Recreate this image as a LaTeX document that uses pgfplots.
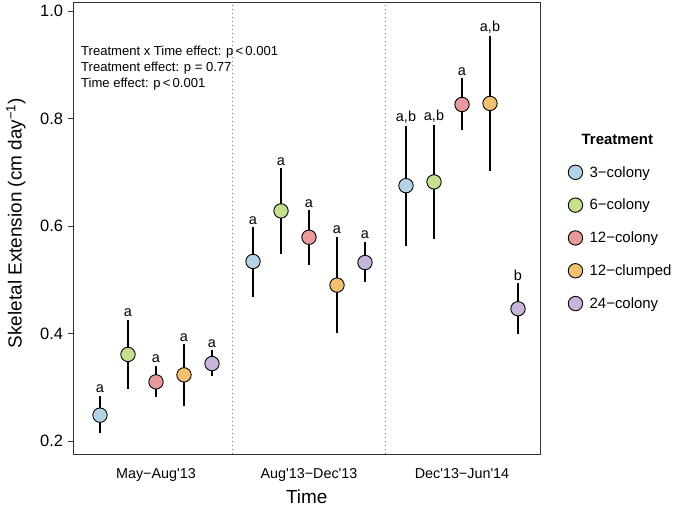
\documentclass[border=0pt]{standalone}
\usepackage{fontspec}
\setmainfont{Liberation Sans}
\usepackage{pgfplots}
\usepackage{pgfplotstable}
\pgfplotsset{compat=1.18}
\definecolor{c1}{HTML}{B5D3E7}
\definecolor{c2}{HTML}{C5E08F}
\definecolor{c3}{HTML}{E99A9C}
\definecolor{c4}{HTML}{F2C06F}
\definecolor{c5}{HTML}{C6B4DB}
\definecolor{frame}{HTML}{333333}
\pgfplotstableread{
x      y      hi     lo     lab
0.634  0.248  0.284  0.214  a
1.634  0.534  0.598  0.468  a
2.634  0.675  0.786  0.563  {a,b}
}\sA
\pgfplotstableread{
x      y      hi     lo     lab
0.817  0.361  0.426  0.296  a
1.817  0.628  0.707  0.548  a
2.817  0.682  0.788  0.576  {a,b}
}\sB
\pgfplotstableread{
x      y      hi     lo     lab
1.000  0.310  0.340  0.281  a
2.000  0.579  0.630  0.527  a
3.000  0.826  0.875  0.779  a
}\sC
\pgfplotstableread{
x      y      hi     lo     lab
1.183  0.323  0.380  0.265  a
2.183  0.490  0.580  0.400  a
3.183  0.828  0.954  0.702  {a,b}
}\sD
\pgfplotstableread{
x      y      hi     lo     lab
1.366  0.344  0.369  0.321  a
2.366  0.532  0.571  0.496  a
3.366  0.446  0.493  0.399  b
}\sE
\pgfplotsset{
  ser/.style={only marks, mark=*, mark size=7.2bp,
    mark options={fill=#1, draw=black, line width=0.9bp},
    error bars/.cd, y dir=both, y explicit, error mark=none,
    error bar style={line width=2bp, black}},
  lab/.style={forget plot, draw=none, mark=none, nodes near coords,
    point meta=explicit symbolic,
    nodes near coords style={anchor=south, black, inner sep=0pt, yshift=2.5bp,
      font=\fontsize{14.5}{16}\selectfont}},
}
\begin{document}
\begin{tikzpicture}
\begin{axis}[
  at={(0,0)}, anchor=south west,
  scale only axis, width=467bp, height=452bp,
  xmin=0.45752, xmax=3.50981, ymin=0.1758, ymax=1.0167,
  xtick={1,2,3},
  xticklabels={May\textminus Aug\textquotesingle 13, Aug\textquotesingle 13\textminus Dec\textquotesingle 13, Dec\textquotesingle 13\textminus Jun\textquotesingle 14},
  xtick style={draw=none},
  tick pos=left,
  ytick={0.2,0.4,0.6,0.8,1.0},
  yticklabel style={/pgf/number format/fixed, /pgf/number format/precision=1,
    /pgf/number format/fixed zerofill, /pgf/number format/assume math mode=true,
    font=\fontsize{16.5}{18}\selectfont, xshift=-2bp},
  xticklabel style={font=\fontsize{14.4}{16}\selectfont, yshift=-6bp},
  tick align=outside, major tick length=4.5bp,
  ytick style={frame, line width=0.9bp},
  axis line style={frame, line width=0.9bp},
  extra x ticks={1.5,2.5}, extra x tick labels={},
  extra x tick style={grid=major, major grid style={black!55, line width=1bp, dash pattern=on 1bp off 3bp}, major tick length=0pt},
  legend cell align=left,
  legend style={draw=none, fill=none, at={(1.0573,0.713)}, anchor=north west,
    font=\fontsize{15}{17}\selectfont, row sep=16.5bp, column sep=5bp, inner sep=0pt},
  clip=false,
]
\addlegendimage{empty legend}
\addlegendentry{\hspace{-8bp}\textbf{Treatment}}
\addplot[ser=c1] table[x=x, y=y, y error plus expr=\thisrow{hi}-\thisrow{y}, y error minus expr=\thisrow{y}-\thisrow{lo}] {\sA};
\addlegendentry{3\textminus colony}
\addplot[ser=c2] table[x=x, y=y, y error plus expr=\thisrow{hi}-\thisrow{y}, y error minus expr=\thisrow{y}-\thisrow{lo}] {\sB};
\addlegendentry{6\textminus colony}
\addplot[ser=c3] table[x=x, y=y, y error plus expr=\thisrow{hi}-\thisrow{y}, y error minus expr=\thisrow{y}-\thisrow{lo}] {\sC};
\addlegendentry{12\textminus colony}
\addplot[ser=c4] table[x=x, y=y, y error plus expr=\thisrow{hi}-\thisrow{y}, y error minus expr=\thisrow{y}-\thisrow{lo}] {\sD};
\addlegendentry{12\textminus clumped}
\addplot[ser=c5] table[x=x, y=y, y error plus expr=\thisrow{hi}-\thisrow{y}, y error minus expr=\thisrow{y}-\thisrow{lo}] {\sE};
\addlegendentry{24\textminus colony}
\addplot[lab] table[x=x, y=hi, meta=lab] {\sA};
\addplot[lab] table[x=x, y=hi, meta=lab] {\sB};
\addplot[lab] table[x=x, y=hi, meta=lab] {\sC};
\addplot[lab] table[x=x, y=hi, meta=lab] {\sD};
\addplot[lab] table[x=x, y=hi, meta=lab] {\sE};
\node[anchor=north west, align=left, inner sep=0pt, font=\fontsize{13.1}{16}\selectfont]
  at ([xshift=8bp,yshift=-44bp]rel axis cs:0,1)
  {Treatment x Time effect: p\,\textless\,0.001\\Treatment effect: p = 0.77\\Time effect: p\,\textless\,0.001};
\end{axis}
\node[rotate=90, font=\fontsize{19}{21}\selectfont] at (-57bp,231bp) {Skeletal Extension (cm day\textsuperscript{\textminus 1})};
\node[font=\fontsize{19}{21}\selectfont] at (233.7bp,-42.7bp) {Time};
\path[use as bounding box] (-73bp,-52bp) rectangle (607bp,454bp);
\end{tikzpicture}
\end{document}
